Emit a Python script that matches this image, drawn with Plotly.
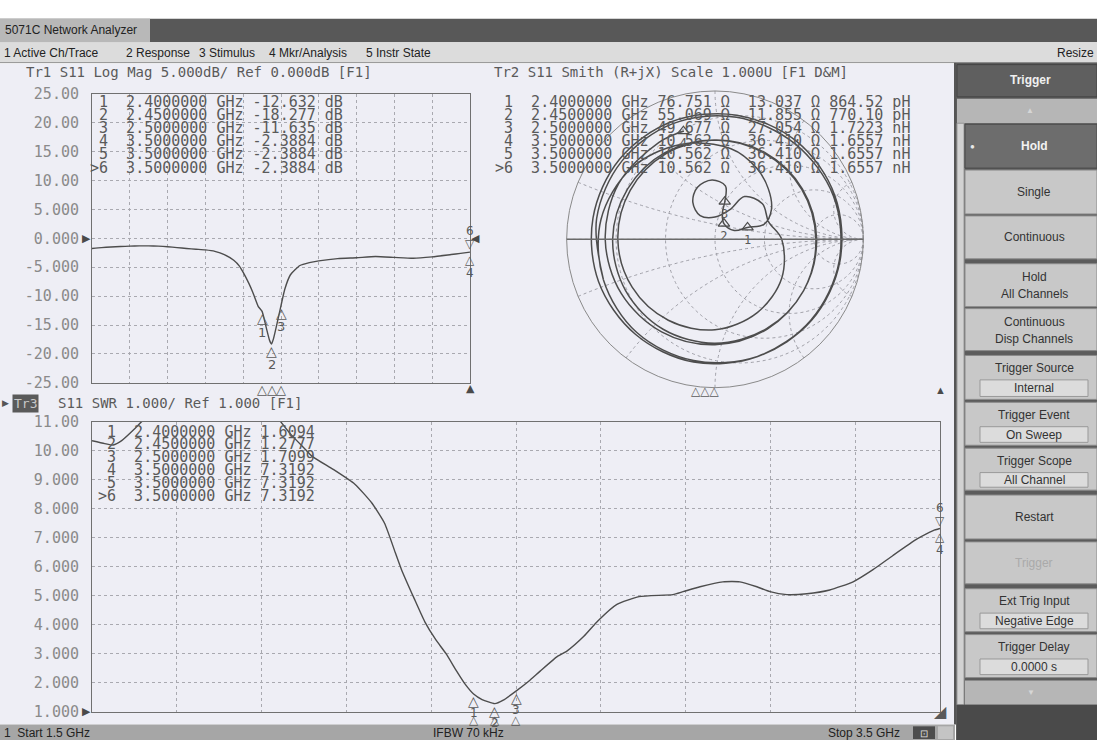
import numpy as np
import plotly.graph_objects as go

W, H = 1097, 749
def px(x): return x / W
def py(y): return 1 - y / H

# ---------------- DATA ----------------
# Tr1: S11 Log Mag (dB) vs frequency (GHz)
lm_freq = [1.50, 1.55, 1.60, 1.65, 1.70, 1.75, 1.80, 1.85, 1.90, 1.95,
           2.00, 2.05, 2.10, 2.15, 2.20, 2.25, 2.28, 2.30, 2.33, 2.35,
           2.37, 2.38, 2.40, 2.42, 2.44, 2.45, 2.46, 2.48, 2.50, 2.52,
           2.55, 2.60, 2.65, 2.70, 2.80, 2.90, 3.00, 3.10, 3.20, 3.30,
           3.40, 3.45, 3.50]
lm_db = [-1.75, -1.6, -1.5, -1.42, -1.35, -1.3, -1.3, -1.35, -1.45, -1.6,
         -1.75, -1.88, -2.0, -2.25, -2.8, -3.8, -4.8, -5.9, -7.8, -9.3,
         -11.0, -11.8, -12.632, -15.2, -17.7, -18.277, -17.4, -14.6, -11.635, -8.8,
         -6.3, -4.7, -4.2, -3.9, -3.5, -3.35, -3.15, -3.3, -3.45, -3.2,
         -2.8, -2.6, -2.3884]

# Tr3: S11 SWR vs frequency (GHz)
swr_freq = [1.50, 1.53, 1.55, 1.57, 1.60, 1.62, 1.66, 1.70, 1.75, 1.80,
            1.85, 1.90, 1.94, 1.97, 2.00, 2.02, 2.07, 2.12, 2.16, 2.19,
            2.215, 2.23, 2.26, 2.285, 2.31, 2.335, 2.36, 2.38, 2.40, 2.42,
            2.45, 2.47, 2.50, 2.53, 2.557, 2.597, 2.62, 2.66, 2.693, 2.738,
            2.79, 2.87, 2.894, 2.934, 2.988, 3.028, 3.068, 3.099, 3.139, 3.186,
            3.24, 3.295, 3.342, 3.389, 3.446, 3.484, 3.50]
swr_val = [10.35, 10.25, 10.2, 10.35, 10.75, 11.05, 11.6, 12.0, 12.3, 12.4,
           12.3, 11.9, 11.1, 10.55, 10.1, 9.8, 9.35, 8.85, 8.2, 7.5,
           6.5, 5.9, 4.9, 4.1, 3.5, 3.0, 2.4, 1.95, 1.6094, 1.42,
           1.2777, 1.4, 1.7099, 2.05, 2.4, 2.9, 3.09, 3.6, 4.13, 4.7,
           4.97, 5.04, 5.14, 5.31, 5.48, 5.48, 5.31, 5.14, 5.04, 5.07,
           5.2, 5.48, 5.9, 6.39, 6.96, 7.25, 7.3192]

# Tr2: Smith chart trace, reflection coefficient read as magnitude / angle (deg)
smith_mag = [0.80, 0.81, 0.82, 0.83, 0.835, 0.84, 0.85, 0.85, 0.845, 0.84,
             0.84, 0.835, 0.835, 0.835, 0.84, 0.845, 0.85, 0.86, 0.86, 0.855,
             0.85, 0.84, 0.83, 0.82, 0.80, 0.78, 0.74, 0.68, 0.62,
             0.556, 0.495, 0.43, 0.345, 0.233, 0.143, 0.122, 0.187, 0.262, 0.367,
             0.40, 0.37, 0.29, 0.189, 0.15, 0.224, 0.35, 0.40, 0.38,
             0.45, 0.52, 0.57, 0.61, 0.63, 0.645, 0.655, 0.66, 0.665, 0.67,
             0.675, 0.68, 0.685, 0.69, 0.695, 0.70, 0.70, 0.695, 0.69, 0.68,
             0.675, 0.67, 0.67, 0.675, 0.68, 0.69, 0.70, 0.71, 0.72, 0.73,
             0.74, 0.75, 0.755, 0.76]
smith_ang = [200, 170, 140, 110, 80, 50, 20, -10, -40, -70,
             -100, -130, -160, -190, -220, -250, -280, -310, -340, -370,
             -400, -430, -460, -490, -520, -550, -580, -610, -640,
             59.7, 43.4, 27.8, 16.9, 20.1, 24.8, 60.5, 74.5, 75.4, 79,
             92.9, 108.9, 121, 122, 90, 63.4, 55.4, 36.9, 18.4,
             0, -30, -60, -90, -120, -150, -180, -210, -240, -270,
             -300, -330, -360, -390, -420, -450, -480, -510, -540, -570,
             -600, -630, -660, -690, -720, -750, -780, -810, -840, -870,
             -900, -930, -960, -974]

# Marker table
mkr_id = ["1", "2", "3", "4", "5", ">6"]
mkr_freq = [2.4, 2.45, 2.5, 3.5, 3.5, 3.5]
mkr_lm_txt = ["-12.632", "-18.277", "-11.635", "-2.3884", "-2.3884", "-2.3884"]
mkr_swr_txt = ["1.6094", "1.2777", "1.7099", "7.3192", "7.3192", "7.3192"]
mkr_R_txt = ["76.751", "55.069", "49.677", "10.562", "10.562", "10.562"]
mkr_X_txt = ["13.037", "11.855", "27.054", "36.410", "36.410", "36.410"]
mkr_LC_txt = ["864.52 pH", "770.10 pH", "1.7223 nH", "1.6557 nH", "1.6557 nH", "1.6557 nH"]
Z0 = 50.0

# Axis ticks
freq_grid = [1.5, 1.7, 1.9, 2.1, 2.3, 2.5, 2.7, 2.9, 3.1, 3.3, 3.5]
lm_tickvals = [25, 20, 15, 10, 5, 0, -5, -10, -15, -20, -25]
lm_ticktext = ["25.00", "20.00", "15.00", "10.00", "5.000", "0.000",
               "-5.000", "-10.00", "-15.00", "-20.00", "-25.00"]
swr_tickvals = [11, 10, 9, 8, 7, 6, 5, 4, 3, 2, 1]
swr_ticktext = ["11.00", "10.00", "9.000", "8.000", "7.000", "6.000",
                "5.000", "4.000", "3.000", "2.000", "1.000"]

# ---------------- STYLE ----------------
MONO = "DejaVu Sans Mono"
SANS = "Liberation Sans"
TRACE = "#4d4d4d"
TXT = "#5a5a5a"
GRID = "#a9a9b0"
FRAME = "#707070"
BG = "#eeeef5"

fig = go.Figure()

fig.add_trace(go.Scatter(x=lm_freq, y=lm_db, xaxis="x", yaxis="y", mode="lines",
                         line=dict(color=TRACE, width=1.4, shape="spline", smoothing=0.5),
                         showlegend=False, hoverinfo="skip"))
fig.add_trace(go.Scatter(x=swr_freq, y=swr_val, xaxis="x2", yaxis="y2", mode="lines",
                         line=dict(color=TRACE, width=1.4, shape="spline", smoothing=0.5),
                         showlegend=False, hoverinfo="skip"))

g = np.array(smith_mag) * np.exp(1j * np.deg2rad(np.array(smith_ang, dtype=float)))
z = (1 + g) / (1 - g)
fig.add_trace(go.Scattersmith(real=z.real, imag=z.imag, subplot="smith", mode="lines",
                              line=dict(color=TRACE, width=1.5, shape="spline"),
                              showlegend=False, hoverinfo="skip"))
mR = [float(v) / Z0 for v in mkr_R_txt[:4]]
mX = [float(v) / Z0 for v in mkr_X_txt[:4]]
fig.add_trace(go.Scattersmith(real=mR, imag=mX, subplot="smith", mode="markers+text",
                              marker=dict(symbol="triangle-up-open", size=10, color=TRACE,
                                          line=dict(width=1.2, color=TRACE)),
                              text=mkr_id[:4], textposition="bottom center",
                              textfont=dict(family=MONO, size=12, color=TXT),
                              showlegend=False, hoverinfo="skip"))

shapes = []
def rect(x0, y0, x1, y1, fill, line=None, lw=1):
    shapes.append(dict(type="rect", xref="paper", yref="paper",
                       x0=px(x0), x1=px(x1), y0=py(y1), y1=py(y0),
                       fillcolor=fill, layer="below",
                       line=dict(width=lw if line else 0, color=line or fill)))
def hline(x0, x1, y, color, w=1):
    shapes.append(dict(type="line", xref="paper", yref="paper", x0=px(x0), x1=px(x1),
                       y0=py(y), y1=py(y), line=dict(color=color, width=w), layer="below"))
def vline(x, y0, y1, color, w=1):
    shapes.append(dict(type="line", xref="paper", yref="paper", x0=px(x), x1=px(x),
                       y0=py(y0), y1=py(y1), line=dict(color=color, width=w), layer="below"))

# window chrome
rect(0, 10, 1097, 34, "#585858")
rect(0, 10, 150, 34, "#b8b8b8")
rect(0, 34, 1097, 55, "#dcdcdc")
hline(0, 1097, 55, "#8c8c8c")
rect(0, 56, 955, 733, BG)
vline(955, 55, 733, "#555555", 2)
rect(0, 733, 955, 749, "#a6a6a6")
rect(913, 735, 935, 748, "#4d4d4d")
rect(938, 735, 953, 748, "#c4c4c4")

# softkey panel
rect(956, 55, 1097, 749, "#5c5c5c")
rect(957, 57, 1097, 90, "#5f5f5f", "#444444")
rect(957, 92, 1097, 117, "#b6b6b6")
rect(957, 117, 964, 713, "#d2d2d2", "#9a9a9a")
panel = [
    (118, 163, "active", ["Hold"]),
    (165, 210, "btn", ["Single"]),
    (212, 256, "btn", ["Continuous"]),
    (261, 305, "btn", ["Hold", "All Channels"]),
    (307, 350, "btn", ["Continuous", "Disp Channels"]),
    (355, 400, "value", ["Trigger Source", "Internal"]),
    (403, 447, "value", ["Trigger Event", "On Sweep"]),
    (450, 493, "value", ["Trigger Scope", "All Channel"]),
    (498, 543, "btn", ["Restart"]),
    (546, 589, "disabled", ["Trigger"]),
    (594, 638, "value", ["Ext Trig Input", "Negative Edge"]),
    (641, 685, "value", ["Trigger Delay", "0.0000 s"]),
]
rect(965, 688, 1097, 713, "#b6b6b6")
rect(957, 713, 1097, 749, "#4a4a4a")

annotations = []
def text(x, y, s, size=12, color="#222222", family=SANS, anchor="left"):
    annotations.append(dict(x=px(x), y=py(y), xref="paper", yref="paper", text=s,
                            showarrow=False, xanchor=anchor, yanchor="middle",
                            borderpad=0,
                            font=dict(family=family, size=size, color=color)))

BX = 1034
for (y0, y1, kind, lines) in panel:
    if kind == "active":
        rect(965, y0, 1097, y1, "#6d6d6d", "#4a4a4a")
        text(BX, (y0 + y1) / 2, "<b>" + lines[0] + "</b>", 12, "#f2f2f2", anchor="center")
        text(972, (y0 + y1) / 2, "●", 8, "#e8e8e8", anchor="center")
    elif kind == "value":
        rect(965, y0, 1097, y1, "#c8c8c8", "#8a8a8a")
        rect(980, y0 + 25, 1088, y1 - 3, "#dcdcdc", "#999999")
        text(BX, y0 + 13, lines[0], 12, "#333333", anchor="center")
        text(BX, (y0 + 25 + y1 - 3) / 2, lines[1], 12, "#333333", anchor="center")
    else:
        rect(965, y0, 1097, y1, "#c8c8c8", "#8a8a8a")
        col = "#aaaaaa" if kind == "disabled" else "#333333"
        if len(lines) == 1:
            text(BX, (y0 + y1) / 2, lines[0], 12, col, anchor="center")
        else:
            text(BX, y0 + 14, lines[0], 12, col, anchor="center")
            text(BX, y0 + 31, lines[1], 12, col, anchor="center")
text(1030, 73, "<b>Trigger</b>", 12, "#f0f0f0", anchor="center")
text(1030, 104, "▲", 8, "#d6d6d6", anchor="center")
text(1031, 700, "▼", 8, "#d6d6d6", anchor="center")

# title / menu / status text
text(4, 22, "5071C Network Analyzer", 12, "#222222")
for xm, s in zip([3, 125, 198, 268, 365],
                 ["1 Active Ch/Trace", "2 Response", "3 Stimulus", "4 Mkr/Analysis", "5 Instr State"]):
    text(xm, 45, s, 12, "#222222")
text(1095, 45, "Resize", 12, "#222222", anchor="right")
text(3, 742, "1  Start 1.5 GHz", 12, "#222222")
text(432, 742, "IFBW 70 kHz", 12, "#222222")
text(827, 742, "Stop 3.5 GHz", 12, "#222222")
text(924, 742, "⊡", 10, "#dddddd", anchor="center")

# trace headers
text(25, 65, "Tr1 S11 Log Mag 5.000dB/ Ref 0.000dB [F1]", 14, TXT, MONO)
text(493, 65, "Tr2 S11 Smith (R+jX) Scale 1.000U [F1 D&M]", 14, TXT, MONO)
text(5, 404, "▶", 9, "#555555", anchor="center")
annotations.append(dict(x=px(12), y=py(404), xref="paper", yref="paper", text="Tr3",
                        showarrow=False, xanchor="left", yanchor="middle", bgcolor="#5a5a5a",
                        borderpad=1, font=dict(family=MONO, size=13, color="#c8c8c8")))
text(57, 404, "S11 SWR 1.000/ Ref 1.000 [F1]", 14, TXT, MONO)

# marker tables (one monospaced row per marker)
rows_top = [95, 108.5, 122, 135.5, 149, 162.5]
rows_swr = [433, 446, 459.5, 472.5, 486, 499]
for i in range(6):
    fs = f"{mkr_freq[i]:.7f}"
    mid = f"{mkr_id[i]:>2}"
    text(89, rows_top[i], f"{mid}  {fs} GHz {mkr_lm_txt[i]:>7} dB", 15, TXT, MONO)
    text(494, rows_top[i],
         f"{mid}  {fs} GHz {mkr_R_txt[i]:>6} Ω  {mkr_X_txt[i]:>6} Ω {mkr_LC_txt[i]}", 15, TXT, MONO)
    text(97, rows_swr[i], f"{mid}  {fs} GHz {mkr_swr_txt[i]}", 15, TXT, MONO)

# markers on the rectangular traces
def dmark(xr, yr, x, y, s, ys, size=14, xs=0, color=TXT):
    annotations.append(dict(x=x, y=y, xref=xr, yref=yr, text=s, showarrow=False,
                            xshift=xs, yshift=ys, borderpad=0,
                            font=dict(family="DejaVu Sans", size=size, color=color)))
for i in range(3):
    dmark("x", "y", mkr_freq[i], float(mkr_lm_txt[i]), "△", -7)
    dmark("x", "y", mkr_freq[i], float(mkr_lm_txt[i]), mkr_id[i], -21, 13)
    dmark("x", "y", mkr_freq[i], -25, "△", -7, 13)
    dmark("x2", "y2", mkr_freq[i], float(mkr_swr_txt[i]), "△", -7)
    dmark("x2", "y2", mkr_freq[i], float(mkr_swr_txt[i]), mkr_id[i], -19, 12)
    dmark("x2", "y2", mkr_freq[i], 1, "△", -8, 12)
for xr, yr, v in [("x", "y", float(mkr_lm_txt[5])), ("x2", "y2", float(mkr_swr_txt[5]))]:
    dmark(xr, yr, mkr_freq[5], v, "6", 21, 12)
    dmark(xr, yr, mkr_freq[5], v, "▽", 8, 12)
    dmark(xr, yr, mkr_freq[5], v, "△", -8, 12)
    dmark(xr, yr, mkr_freq[5], v, "4", -21, 12)
# reference / stimulus indicators
dmark("x", "y", 1.5, 0, "▶", 0, 11, -6, "#4a4a4a")
dmark("x", "y", 3.5, 0, "◀", 0, 11, 5, "#4a4a4a")
dmark("x", "y", 3.5, -25, "▲", -6, 11, 0, "#4a4a4a")
dmark("x2", "y2", 1.5, 1, "▶", 0, 11, -6, "#4a4a4a")
dmark("x2", "y2", 3.5, 1, "◢", 0, 16, 0, "#5a5a5a")
text(940, 390, "▲", 11, "#4a4a4a", anchor="center")
text(705, 391, "△△△", 12, TXT, "DejaVu Sans", anchor="center")

axis_common = dict(showgrid=True, gridcolor=GRID, griddash="dot", gridwidth=1,
                   showline=True, mirror=True, linecolor=FRAME, linewidth=1,
                   zeroline=False, ticks="", fixedrange=True)
fig.update_layout(
    width=W, height=H, autosize=False,
    margin=dict(l=0, r=0, t=0, b=0),
    paper_bgcolor="white", plot_bgcolor="rgba(0,0,0,0)",
    showlegend=False,
    xaxis=dict(domain=[px(92), px(470)], range=[1.5, 3.5], tickvals=freq_grid,
               showticklabels=False, anchor="y", **axis_common),
    yaxis=dict(domain=[py(383), py(87)], range=[-25, 25], tickvals=lm_tickvals,
               ticktext=lm_ticktext, anchor="x", ticklabelstandoff=9,
               tickfont=dict(family=MONO, size=15, color="#8a8a8a"), **axis_common),
    xaxis2=dict(domain=[px(92), px(940)], range=[1.5, 3.5], tickvals=freq_grid,
                showticklabels=False, anchor="y2", **axis_common),
    yaxis2=dict(domain=[py(720), py(423)], range=[1, 11], tickvals=swr_tickvals,
                ticktext=swr_ticktext, anchor="x2", ticklabelstandoff=9,
                tickfont=dict(family=MONO, size=15, color="#8a8a8a"), **axis_common),
    smith=dict(domain=dict(x=[px(563), px(867)], y=[py(388), py(84)]),
               bgcolor="rgba(0,0,0,0)",
               realaxis=dict(showticklabels=False, ticks="", gridcolor="#a0a0a8",
                             griddash="dot", linecolor="#6a6a6a", linewidth=1.5),
               imaginaryaxis=dict(showticklabels=False, ticks="", gridcolor="#a0a0a8",
                                  griddash="dot", linecolor="#8a8a8a", linewidth=1)),
    shapes=shapes,
    annotations=annotations,
)

fig.write_html(
    "out.html",
    config={"displayModeBar": False, "staticPlot": True},
    post_script=("var d=document.getElementById('{plot_id}');"
                 "d.style.position='fixed';d.style.top='0px';d.style.left='0px';"
                 "document.documentElement.style.margin='0';"
                 "document.body.style.margin='0';document.body.style.overflow='hidden';"),
)
